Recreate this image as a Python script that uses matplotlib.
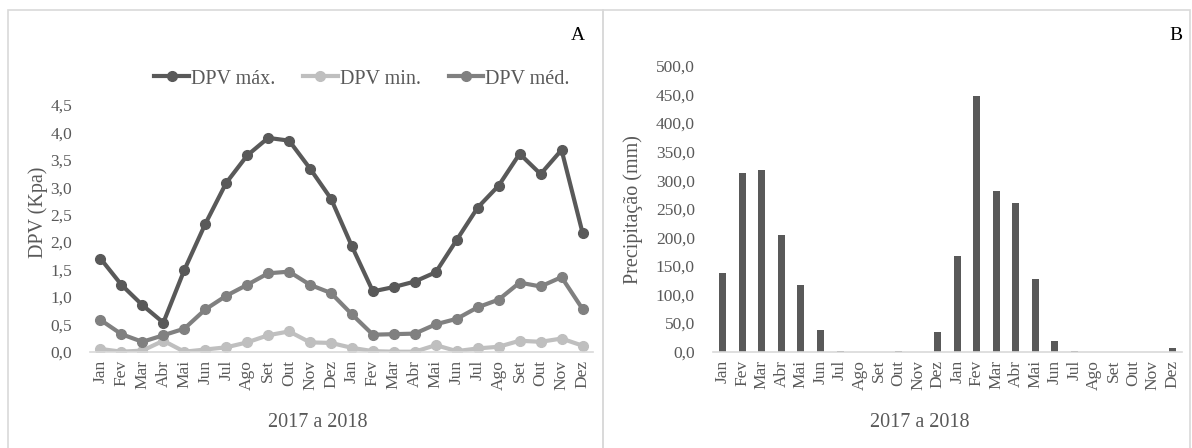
import matplotlib
matplotlib.use("Agg")
import matplotlib.pyplot as plt
from matplotlib.ticker import FuncFormatter, MultipleLocator
from matplotlib.patches import Rectangle

plt.rcParams['font.family'] = ['Liberation Serif', 'DejaVu Serif']

# data
months = ["Jan", "Fev", "Mar", "Abr", "Mai", "Jun", "Jul", "Ago", "Set", "Out", "Nov", "Dez"] * 2
dpv_max = [1.70, 1.22, 0.85, 0.53, 1.49, 2.33, 3.08, 3.58, 3.90, 3.85, 3.34, 2.79,
           1.92, 1.10, 1.18, 1.28, 1.45, 2.04, 2.63, 3.03, 3.61, 3.24, 3.68, 2.17]
dpv_min = [0.05, 0.00, 0.02, 0.20, 0.00, 0.04, 0.08, 0.17, 0.30, 0.37, 0.17, 0.16,
           0.07, 0.01, 0.00, 0.00, 0.12, 0.01, 0.06, 0.09, 0.20, 0.18, 0.24, 0.11]
dpv_med = [0.58, 0.32, 0.18, 0.30, 0.42, 0.77, 1.02, 1.22, 1.43, 1.46, 1.22, 1.07,
           0.68, 0.31, 0.32, 0.33, 0.50, 0.60, 0.81, 0.95, 1.26, 1.19, 1.36, 0.78]
precip = [138, 313, 318, 204, 116, 38, 2, 0, 0, 2, 0, 35,
          168, 448, 282, 260, 127, 18, 2, 0, 0, 0, 0, 7]

txt = "#595959"
W, H = 1192, 448
fig = plt.figure(figsize=(W / 100, H / 100), dpi=100)

# panel borders
for x0, x1 in [(8, 603), (603, 1190)]:
    fig.patches.append(Rectangle((x0 / W, -0.01), (x1 - x0) / W, 1 - 10 / H + 0.01,
                                 transform=fig.transFigure, fill=False,
                                 edgecolor="#d9d9d9", linewidth=1.2))

comma = FuncFormatter(lambda v, p: f"{v:.1f}".replace(".", ","))


def style(ax):
    for s in ["top", "right", "left"]:
        ax.spines[s].set_visible(False)
    ax.spines["bottom"].set_color("#d9d9d9")
    ax.spines["bottom"].set_linewidth(1.2)
    ax.tick_params(length=0, colors=txt, labelsize=12.5)
    ax.tick_params(axis="y", pad=13)
    ax.tick_params(axis="x", pad=6)
    ax.set_xticks(range(len(months)))
    ax.set_xticklabels(months, rotation=90)
    ax.set_xlim(-0.5, len(months) - 0.5)
    ax.yaxis.set_major_formatter(comma)


# A: DPV lines
ax1 = fig.add_axes([90 / W, 1 - 351.7 / H, (593 - 90) / W, (351.7 - 105) / H])
x = range(len(months))
ax1.plot(x, dpv_max, color="#595959", lw=3, marker="o", ms=7, label="DPV máx.")
ax1.plot(x, dpv_min, color="#bfbfbf", lw=3, marker="o", ms=7, label="DPV min.")
ax1.plot(x, dpv_med, color="#808080", lw=3, marker="o", ms=7, label="DPV méd.")
ax1.set_ylim(0, 4.5)
ax1.yaxis.set_major_locator(MultipleLocator(0.5))
style(ax1)
ax1.legend(loc="center", bbox_to_anchor=(362 / W, 1 - 79 / H), bbox_transform=fig.transFigure,
           ncol=3, frameon=False, fontsize=14.5, handlelength=1.7, handletextpad=0.1,
           columnspacing=1.4, labelcolor=txt)
fig.text(38 / W, 1 - 212 / H, "DPV (Kpa)", rotation=90, ha="center", va="center",
         fontsize=14.5, color=txt)
fig.text(318 / W, 1 - 422 / H, "2017 a 2018", ha="center", va="center", fontsize=14.5, color=txt)
fig.text(578 / W, 1 - 36 / H, "A", ha="center", va="center", fontsize=14, color="black")

# B: precipitation bars
ax2 = fig.add_axes([713 / W, 1 - 351.7 / H, (1182 - 713) / W, (351.7 - 66) / H])
ax2.bar(x, precip, width=0.36, color="#595959")
ax2.set_ylim(0, 500)
ax2.yaxis.set_major_locator(MultipleLocator(50))
style(ax2)
fig.text(633 / W, 1 - 210 / H, "Precipitação (mm)", rotation=90, ha="center", va="center",
         fontsize=14.5, color=txt)
fig.text(920 / W, 1 - 422 / H, "2017 a 2018", ha="center", va="center", fontsize=14.5, color=txt)
fig.text(1176 / W, 1 - 36 / H, "B", ha="center", va="center", fontsize=14, color="black")

fig.savefig("out.png", dpi=100)
